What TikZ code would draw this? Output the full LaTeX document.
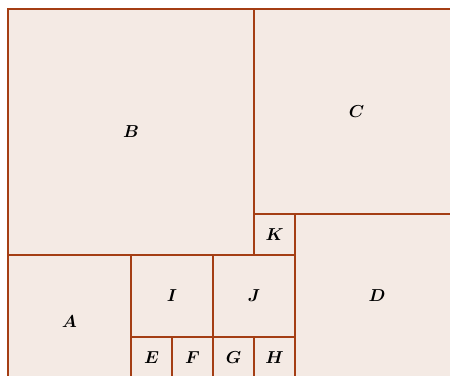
\documentclass[tikz,border=0pt]{standalone}
\usepackage{xcolor}
\usepackage{tikz}
\usepackage{amsmath}
\definecolor{rust}{RGB}{164,62,20}
\definecolor{paper}{RGB}{244,234,228}

\begin{document}
\begin{tikzpicture}[
    sq/.style={
        draw=rust,
        fill=paper,
        line width=1.35pt,
        inner sep=0pt,
        font=\fontsize{13}{15}\selectfont
    }
]
\clip (-0.195,0.073) rectangle (10.78,9.22);
% big squares
\node[sq, minimum size=6cm] (B) at (3,6) {$\boldsymbol{B}$};
\node[sq, minimum size=5cm] (C) at (8.5,6.5) {$\boldsymbol{C}$};
\node[sq, minimum size=4cm] (D) at (9,2) {$\boldsymbol{D}$};
\node[sq, minimum size=3cm] (A) at (1.5,1.5) {};
\node at ([yshift=-0.12cm]A.center) [font=\fontsize{13}{15}\selectfont] (Alab) {$\boldsymbol{A}$};
% middle squares
\node[sq, minimum size=2cm] (I) at (4,2) {$\boldsymbol{I}$};
\node[sq, minimum size=2cm] (J) at (6,2) {$\boldsymbol{J}$};
% unit squares
\node[sq, minimum size=1cm] (K) at (6.5,3.5) {$\boldsymbol{K}$};
\node[sq, minimum size=1cm] (E) at (3.5,0.5) {$\boldsymbol{E}$};
\node[sq, minimum size=1cm] (F) at (4.5,0.5) {$\boldsymbol{F}$};
\node[sq, minimum size=1cm] (G) at (5.5,0.5) {$\boldsymbol{G}$};
\node[sq, minimum size=1cm] (H) at (6.5,0.5) {$\boldsymbol{H}$};
\end{tikzpicture}
\end{document}
